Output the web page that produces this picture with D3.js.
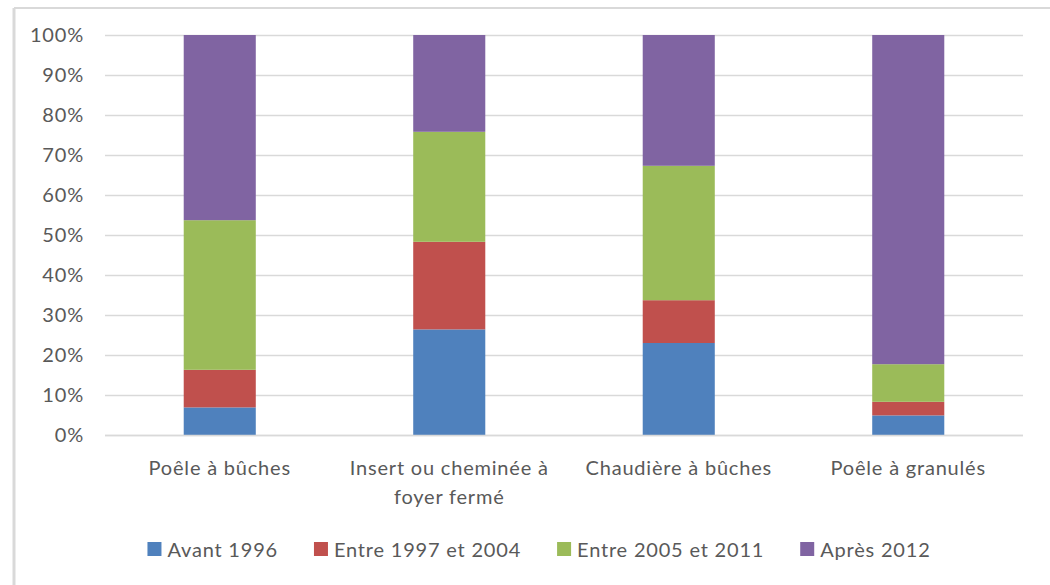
<!DOCTYPE html>
<html>
<head>
<meta charset="utf-8">
<script src="https://cdn.jsdelivr.net/npm/d3@7"></script>
<style>
  body { margin: 0; background: #fff; }
  text { font-family: Lato, "Open Sans", sans-serif; fill: #595959; letter-spacing: 0.8px; }
</style>
</head>
<body>
<div id="chart"></div>
<script>
// categories and series (share of each period, %)
var categories = ["Poêle à bûches", "Insert ou cheminée à\nfoyer fermé", "Chaudière à bûches", "Poêle à granulés"];
var seriesNames = ["Avant 1996", "Entre 1997 et 2004", "Entre 2005 et 2011", "Après 2012"];
var avant1996 = [6.9, 26.4, 23.0, 4.9];
var entre1997 = [9.4, 21.9, 10.7, 3.4];
var entre2005 = [37.4, 27.5, 33.6, 9.4];
var apres2012 = [46.3, 24.2, 32.7, 82.3];
var colors = ["#4f81bd", "#c0504d", "#9bbb59", "#8064a2"];
var yTicks = [0, 0.1, 0.2, 0.3, 0.4, 0.5, 0.6, 0.7, 0.8, 0.9, 1];

var width = 1050, height = 585;

var svg = d3.select("#chart").append("svg")
    .attr("width", width)
    .attr("height", height);

// chart border (only top + left visible in the picture)
svg.append("line").attr("x1", 14).attr("x2", width).attr("y1", 8).attr("y2", 8)
    .attr("stroke", "#d9d9d9").attr("stroke-width", 2);
svg.append("line").attr("x1", 14).attr("x2", 14).attr("y1", 8).attr("y2", height)
    .attr("stroke", "#d9d9d9").attr("stroke-width", 3);

var x = d3.scaleBand()
    .domain(categories)
    .range([105, 1023])
    .paddingInner(0.686)
    .paddingOuter(0.343);

var y = d3.scaleLinear()
    .domain([0, 1])
    .range([435, 35]);

// gridlines
svg.selectAll(".grid")
    .data(yTicks)
    .enter()
    .append("line")
    .attr("class", "grid")
    .attr("x1", 105)
    .attr("x2", 1023)
    .attr("y1", function(d) { return Math.round(y(d)) + 0.5; })
    .attr("y2", function(d) { return Math.round(y(d)) + 0.5; })
    .attr("stroke", "#d9d9d9")
    .attr("stroke-width", 1.5);

// y axis labels
var yAxis = d3.axisLeft(y).tickValues(yTicks).tickFormat(d3.format(".0%")).tickSize(0).tickPadding(0);
var gy = svg.append("g").attr("transform", "translate(84,0)").call(yAxis);
gy.select(".domain").remove();
gy.selectAll("text").attr("font-size", "20px").attr("font-family", null).style("fill", "#595959");

// stack
var rows = categories.map(function(c, i) {
  return { cat: c, s0: avant1996[i], s1: entre1997[i], s2: entre2005[i], s3: apres2012[i] };
});
var keys = ["s0", "s1", "s2", "s3"];
var stacked = d3.stack().keys(keys).offset(d3.stackOffsetExpand)(rows);

svg.selectAll(".serie")
    .data(stacked)
    .enter()
    .append("g")
    .attr("class", "serie")
    .attr("fill", function(d, i) { return colors[i]; })
    .selectAll("rect")
    .data(function(d) { return d; })
    .enter()
    .append("rect")
    .attr("x", function(d) { return x(d.data.cat); })
    .attr("width", x.bandwidth())
    .attr("y", function(d) { return y(d[1]); })
    .attr("height", function(d) { return y(d[0]) - y(d[1]); });

// baseline
svg.append("line").attr("x1", 105).attr("x2", 1023).attr("y1", 435.5).attr("y2", 435.5)
    .attr("stroke", "#d9d9d9").attr("stroke-width", 1.5);

// category labels
var xl = svg.selectAll(".xlab")
    .data(categories)
    .enter()
    .append("text")
    .attr("class", "xlab")
    .attr("text-anchor", "middle")
    .attr("font-size", "20px")
    .attr("x", function(d) { return x(d) + x.bandwidth() / 2; })
    .attr("y", 475);
xl.each(function(d) {
  var t = d3.select(this);
  d.split("\n").forEach(function(line, k) {
    t.append("tspan")
      .attr("x", x(d) + x.bandwidth() / 2)
      .attr("dy", k === 0 ? 0 : 29)
      .text(line);
  });
});

// legend
var legend = svg.append("g").attr("class", "legend");
var items = legend.selectAll("g")
    .data(seriesNames)
    .enter()
    .append("g");
items.append("rect")
    .attr("width", 14)
    .attr("height", 14)
    .attr("y", 542)
    .attr("fill", function(d, i) { return colors[i]; });
items.append("text")
    .attr("x", 20)
    .attr("y", 557)
    .attr("font-size", "20px")
    .text(function(d) { return d; });

var pos = 0;
var offsets = [];
items.each(function(d) {
  var w = d3.select(this).select("text").node().getComputedTextLength() + 20;
  offsets.push(pos);
  pos += w + 36;
});
var total = pos - 36;
var start = 539 - total / 2;
items.attr("transform", function(d, i) { return "translate(" + (start + offsets[i]) + ",0)"; });
</script>
</body>
</html>
